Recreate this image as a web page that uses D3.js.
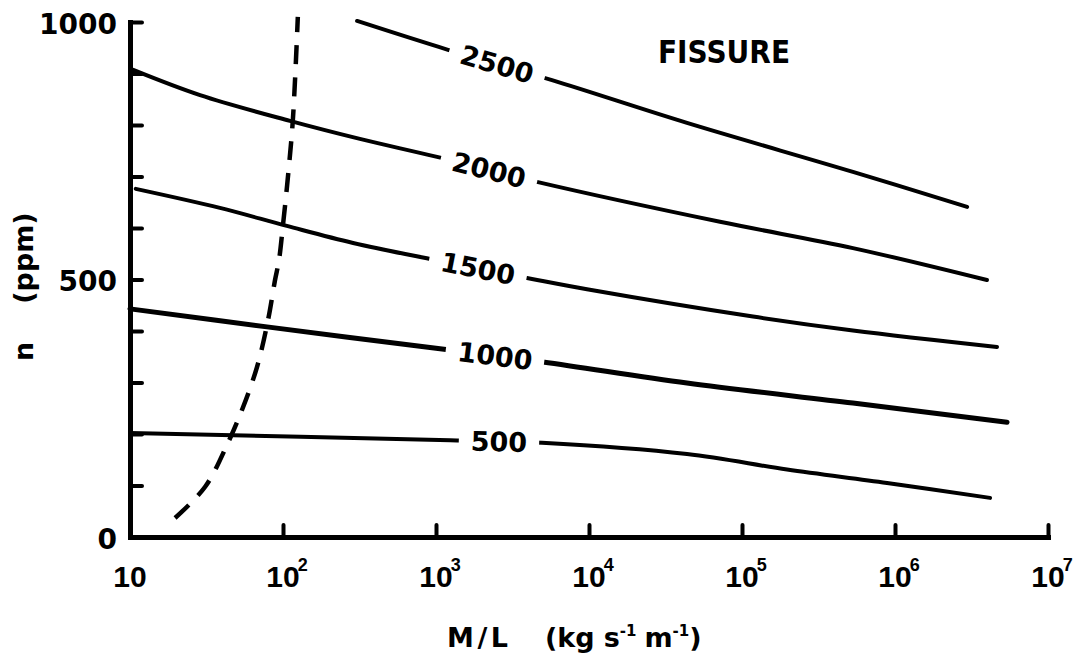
<!DOCTYPE html>
<html>
<head>
<meta charset="utf-8">
<script src="https://cdn.jsdelivr.net/npm/d3@7"></script>
<style>
  body { margin: 0; background: #fff; }
  text { font-family: "DejaVu Sans", sans-serif; font-weight: bold; fill: #000; }
  .tick-num { font-family: "Liberation Sans", Arial, sans-serif; }
</style>
</head>
<body>
<svg id="chart" width="1075" height="655"></svg>
<script>
// Isopleths of n (ppm) against mass flux per unit length M/L (kg s^-1 m^-1), fissure eruption
const curveNames = ["2500", "2000", "1500", "1000", "500"];
const curve2500 = [[305, 1002], [1198, 946], [5730, 887], [43700, 804], [531000, 709], [2960000, 641]];
const curve2000 = [[10.5, 907], [28.7, 858], [111, 808], [318, 773], [1016, 738], [4640, 689], [71800, 612], [531000, 561], [3990000, 499]];
const curve1500 = [[10.9, 676], [38.7, 639], [106, 604], [287, 571], [985, 538], [4240, 501], [9700, 481], [118000, 428], [531000, 401], [4640000, 369]];
const curve1000 = [[10, 443], [78.6, 408], [1236, 363], [5000, 340], [43700, 299], [531000, 260], [5400000, 223]];
const curve500 = [[10, 202], [1236, 188], [4930, 183], [43700, 161], [197000, 131], [887000, 105], [4180000, 76]];
const curveSeries = [curve2500, curve2000, curve1500, curve1000, curve500];
// M/L at which each curve carries its inline label
const labelAt = [2505, 2220, 1880, 2430, 2580];
// dashed boundary curve
const boundary = [[19.7, 37], [30.9, 97], [43.7, 183], [54.8, 252], [67.6, 330], [79.8, 421], [88.7, 499], [94.2, 538], [100, 606], [108, 703], [116, 810], [125, 1010]];

const xTickValues = [1e1, 1e2, 1e3, 1e4, 1e5, 1e6, 1e7];
const xTickExponents = ["", "2", "3", "4", "5", "6", "7"];
const yTickValues = d3.range(0, 1001, 100);
const yLabelValues = [0, 500, 1000];

const svg = d3.select("#chart");
const x = d3.scaleLog().domain([10, 1e7]).range([130, 1048]);
const y = d3.scaleLinear().domain([0, 1000]).range([537, 22]);

// axes
const xAxis = svg.append("g").attr("transform", "translate(0,537)")
  .call(d3.axisBottom(x).tickValues(xTickValues).tickSizeInner(-12).tickSizeOuter(0).tickFormat(() => ""));
const yAxis = svg.append("g").attr("transform", "translate(130,0)")
  .call(d3.axisLeft(y).tickValues(yTickValues).tickSizeInner(-12).tickSizeOuter(0)
    .tickFormat(d => yLabelValues.includes(d) ? String(d) : ""));
[xAxis, yAxis].forEach(g => {
  g.select(".domain").attr("stroke", "#000").attr("stroke-width", 5).attr("stroke-linecap", "square");
  g.selectAll(".tick line").attr("stroke", "#000").attr("stroke-width", 4).attr("stroke-linecap", "round");
});
yAxis.selectAll(".tick text")
  .attr("x", -13).attr("dy", "0.4em")
  .style("font-size", "28px").style("font-family", "DejaVu Sans").style("font-weight", "bold");

// x tick labels: "10" centred on the tick, exponent as a superscript
const xLabels = svg.append("g");
xTickValues.forEach((v, i) => {
  const base = xLabels.append("text")
    .attr("class", "tick-num")
    .attr("x", x(v)).attr("y", 587)
    .attr("text-anchor", "middle")
    .style("font-size", "30px")
    .text("10");
  if (xTickExponents[i]) {
    const w = base.node().getComputedTextLength();
    xLabels.append("text")
      .attr("class", "tick-num")
      .attr("x", x(v) + w / 2 - 2).attr("y", 571)
      .style("font-size", "18px")
      .text(xTickExponents[i]);
  }
});

// curves
const line = d3.line().x(d => x(d[0])).y(d => y(d[1])).curve(d3.curveCatmullRom.alpha(0.5));
svg.append("g").selectAll("path").data(curveSeries).join("path")
  .attr("d", line)
  .attr("fill", "none").attr("stroke", "#000")
  .attr("stroke-width", (d, i) => i === 3 ? 5 : 4)
  .attr("stroke-linecap", "round");

svg.append("path").datum(boundary)
  .attr("d", line)
  .attr("fill", "none").attr("stroke", "#000")
  .attr("stroke-width", 4.5)
  .attr("stroke-dasharray", "19,13");

// inline curve labels, rotated along the local slope with a white gap behind
function pixelAt(series, px) {
  const pts = series.map(d => [x(d[0]), y(d[1])]);
  for (let k = 0; k < pts.length - 1; k++) {
    const a = pts[k], b = pts[k + 1];
    if (px >= a[0] && px <= b[0]) {
      const t = (px - a[0]) / (b[0] - a[0]);
      return { y: a[1] + t * (b[1] - a[1]), angle: Math.atan2(b[1] - a[1], b[0] - a[0]) * 180 / Math.PI };
    }
  }
  return { y: pts[0][1], angle: 0 };
}
const labels = svg.append("g");
curveSeries.forEach((series, i) => {
  const px = x(labelAt[i]);
  const p = pixelAt(series, px);
  const g = labels.append("g").attr("transform", `translate(${px},${p.y}) rotate(${p.angle})`);
  const bg = g.append("rect").attr("fill", "#fff");
  const t = g.append("text")
    .attr("text-anchor", "middle").attr("dy", "0.36em")
    .style("font-size", "27px")
    .text(curveNames[i]);
  const bb = t.node().getBBox();
  bg.attr("x", bb.x - 12).attr("y", bb.y - 2).attr("width", bb.width + 24).attr("height", bb.height + 4);
});

// panel title
svg.append("text").attr("x", 658).attr("y", 63)
  .attr("textLength", 132).attr("lengthAdjust", "spacingAndGlyphs")
  .style("font-size", "32px").text("FISSURE");

// axis titles
const xTitle = svg.append("text").attr("x", 447).attr("y", 647).style("font-size", "27px");
xTitle.append("tspan").attr("textLength", 61).attr("lengthAdjust", "spacing").text("M/L");
xTitle.append("tspan").attr("x", 545).text("(kg");
xTitle.append("tspan").attr("dx", 9).text("s");
xTitle.append("tspan").attr("dy", -11).style("font-size", "15px").text("-1");
xTitle.append("tspan").attr("dy", 11).attr("dx", 8).text("m");
xTitle.append("tspan").attr("dy", -11).style("font-size", "15px").text("-1");
xTitle.append("tspan").attr("dy", 11).text(")");

const yTitle = svg.append("text").attr("transform", "translate(33,361) rotate(-90)").style("font-size", "27px");
yTitle.append("tspan").text("n");
yTitle.append("tspan").attr("dx", 38).text("(ppm)");
</script>
</body>
</html>
